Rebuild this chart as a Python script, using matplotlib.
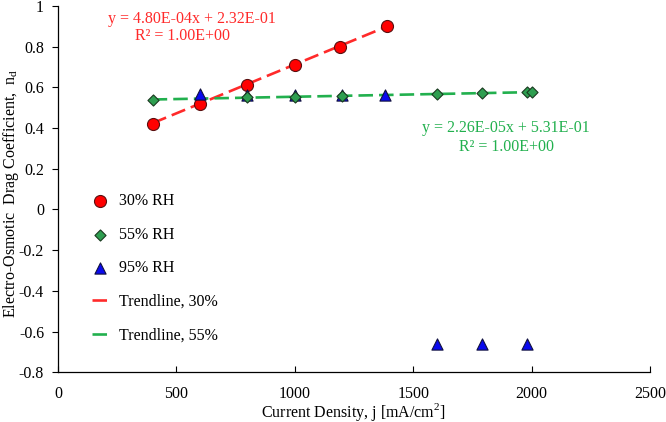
import numpy as np
import matplotlib
matplotlib.use("Agg")
import matplotlib.pyplot as plt

plt.rcParams['font.family'] = ['Liberation Serif', 'DejaVu Serif']
plt.rcParams['mathtext.fontset'] = 'custom'
plt.rcParams['mathtext.rm'] = 'Liberation Serif'

x30 = [400, 600, 800, 1000, 1190, 1390]
y30 = [0.42, 0.52, 0.61, 0.71, 0.80, 0.90]
x55 = [400, 800, 1000, 1200, 1600, 1790, 1980, 2000]
y55 = [0.54, 0.55, 0.55, 0.555, 0.565, 0.57, 0.575, 0.575]
x95 = [600, 800, 1000, 1200, 1380, 1600, 1790, 1980]
y95 = [0.565, 0.56, 0.56, 0.56, 0.56, -0.66, -0.66, -0.66]

trend30 = (4.80e-4, 0.232)
trend55 = (2.26e-5, 0.531)
trend30_range = [400, 1390]
trend55_range = [400, 2000]

red = '#ff2a2a'
green = '#22b04e'
fs = 11.5
fig = plt.figure(figsize=(6.66, 4.22), dpi=100)
ax = fig.add_axes([0.087, 0.118, 0.889, 0.868])

tx = np.array(trend30_range)
ax.plot(tx, trend30[0] * tx + trend30[1], color=red, ls=(0, (5.5, 2.3)), lw=1.9, label='Trendline, 30%', zorder=2)
tx2 = np.array(trend55_range)
ax.plot(tx2, trend55[0] * tx2 + trend55[1], color=green, ls=(0, (5.5, 2.3)), lw=1.9, label='Trendline, 55%', zorder=2)

ax.scatter(x30, y30, marker='o', s=75, color='#ff0000', edgecolor='#5a1010', linewidth=0.8, zorder=3, label='30% RH')
ax.scatter(x55, y55, marker='D', s=32, color='#2e9e50', edgecolor='#1a3a20', linewidth=0.8, zorder=4, label='55% RH')
ax.scatter(x95, y95, marker='^', s=65, color='#0a0aee', edgecolor='#101040', linewidth=0.8, zorder=3, label='95% RH')

handles, labels = ax.get_legend_handles_labels()
order = [2, 3, 4, 0, 1]
ax.legend([handles[i] for i in order], [labels[i] for i in order],
          loc='upper left', bbox_to_anchor=(0.047, 0.506), frameon=False,
          fontsize=fs, labelspacing=1.1, handlelength=1.0, handletextpad=0.7,
          scatterpoints=1, borderaxespad=0)

ax.text(566, 0.936, 'y = 4.80E-04x + 2.32E-01', color=red, ha='center', va='center', fontsize=fs)
ax.text(528, 0.852, 'R² = 1.00E+00', color=red, ha='center', va='center', fontsize=fs)
ax.text(1892, 0.400, 'y = 2.26E-05x + 5.31E-01', color=green, ha='center', va='center', fontsize=fs)
ax.text(1895, 0.307, 'R² = 1.00E+00', color=green, ha='center', va='center', fontsize=fs)

ax.set_xlim(0, 2500)
ax.set_ylim(-0.8, 1.0)
ax.set_xticks([0, 500, 1000, 1500, 2000, 2500])
ax.set_yticks(np.round(np.arange(-0.8, 1.01, 0.2), 1))
ax.set_yticklabels(['-0.8', '-0.6', '-0.4', '-0.2', '0', '0.2', '0.4', '0.6', '0.8', '1'])
ax.tick_params(axis='x', direction='in', labelsize=fs, length=4, width=0.8, pad=10)
ax.tick_params(axis='y', direction='out', labelsize=fs, length=4, width=0.8, pad=6)
for s in ['top', 'right']:
    ax.spines[s].set_visible(False)
for s in ['left', 'bottom']:
    ax.spines[s].set_linewidth(0.9)

fig.text(353 / 666, 1 - 417 / 422, 'Current Density, j [mA/cm$^2$]', fontsize=fs,
         ha='center', va='baseline')
fig.text(11 / 666, 1 - 193 / 422, 'Electro-Osmotic  Drag Coefficient,  n$_\\mathrm{d}$',
         fontsize=fs, rotation=90, ha='center', va='center')

fig.savefig('out.png', dpi=100)
